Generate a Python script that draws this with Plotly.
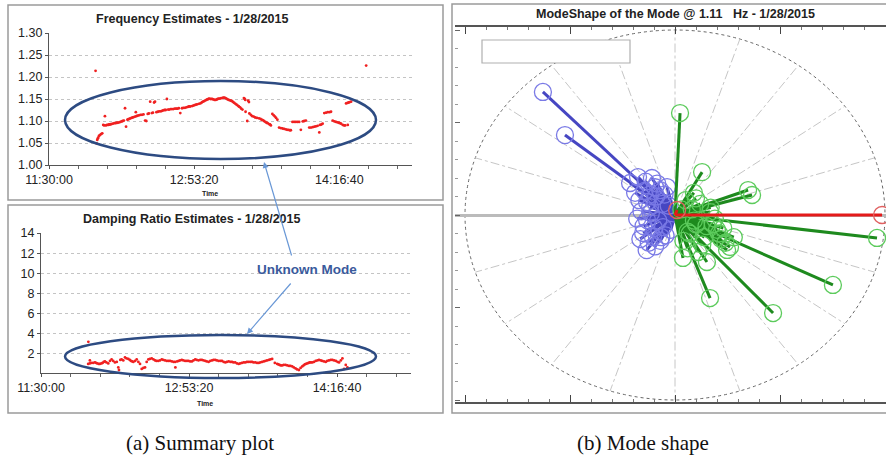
import numpy as np
import pandas as pd
import plotly.graph_objects as go

W, H = 886, 458
BASE = pd.Timestamp("2015-01-28 11:30:00")

# ---------------- data ----------------
# Frequency estimates: seconds after 11:30:00, frequency (Hz)
freq_sec = [1604, 1640, 1661, 1680, 1695, 1720, 1753, 1790, 1833, 1868, 1900, 1926, 1960, 2000, 2040,
            2070, 2100, 2130, 2157, 2200, 2250, 2290, 2330, 2370, 2420, 2460, 2503, 2540, 2580, 2618,
            2653, 2700, 2734, 2770, 2800, 2840, 2880, 2920, 2965, 2990, 3010, 3050, 3100, 3150, 3200,
            3253, 3310, 3350, 3400, 3440, 3484, 3542, 3580, 3620, 3650, 3700, 3750, 3800, 3850, 3888,
            3930, 3980, 4020, 4060, 4100, 4140, 4190, 4234, 4280, 4330, 4380, 4420, 4470, 4521, 4580,
            4630, 4680, 4730, 4780, 4820, 4860, 4926, 4970, 5010, 5060, 5100, 5160, 5213, 5260, 5300,
            5340, 5386, 5420, 5450, 5490, 5520, 5570, 5617, 5660, 5700, 5740, 5780, 5810, 5848, 5890,
            5930, 5970, 6000, 6040, 6076, 6110, 6150, 6190, 6230, 6270, 6307, 6340, 6380, 6420, 6460,
            6500, 6538, 6580, 6620, 6660, 6712, 6740, 6760, 6769, 6827, 6860, 6885, 6900, 6950, 7000,
            7050, 7100, 7160, 7230, 7280, 7320, 7360, 7403, 7450, 7490, 7530, 7576, 7610, 7640, 7692,
            7740, 7780, 7820, 7865, 7923, 7980, 8040, 8100, 8154, 8200, 8240, 8290, 8327, 8384, 8440,
            8500, 8560, 8615, 8673, 8740, 8790, 8846, 8961, 9020, 9080, 9140, 9192, 9250, 9308, 9330,
            9380, 9423, 9481, 9540, 9600, 9660, 9711, 9769, 9830, 9884, 9930, 9980, 10020, 10057, 10115,
            10160, 10200, 10288, 10230, 10280, 10320, 10360, 10403, 10922]
freq_hz = [1.214, 1.049, 1.057, 1.060, 1.062, 1.066, 1.068, 1.070, 1.072, 1.091, 1.090, 1.111, 1.090, 1.091, 1.091,
           1.092, 1.092, 1.093, 1.093, 1.094, 1.095, 1.095, 1.096, 1.096, 1.097, 1.098, 1.099, 1.100, 1.101, 1.129,
           1.087, 1.103, 1.104, 1.105, 1.106, 1.107, 1.108, 1.109, 1.110, 1.120, 1.111, 1.112, 1.113, 1.114, 1.114,
           1.115, 1.101, 1.100, 1.116, 1.117, 1.144, 1.118, 1.119, 1.142, 1.144, 1.120, 1.121, 1.122, 1.122, 1.123,
           1.124, 1.125, 1.125, 1.150, 1.126, 1.126, 1.127, 1.127, 1.127, 1.128, 1.128, 1.128, 1.129, 1.118, 1.129,
           1.130, 1.130, 1.131, 1.132, 1.133, 1.133, 1.134, 1.135, 1.136, 1.137, 1.138, 1.139, 1.140, 1.142, 1.144,
           1.145, 1.147, 1.148, 1.149, 1.150, 1.151, 1.150, 1.150, 1.149, 1.148, 1.148, 1.149, 1.150, 1.151, 1.151,
           1.152, 1.152, 1.153, 1.153, 1.152, 1.151, 1.149, 1.148, 1.147, 1.146, 1.145, 1.143, 1.141, 1.139, 1.137,
           1.135, 1.133, 1.131, 1.128, 1.126, 1.152, 1.150, 1.148, 1.121, 1.100, 1.146, 1.143, 1.117, 1.114, 1.111,
           1.110, 1.108, 1.107, 1.106, 1.105, 1.103, 1.102, 1.100, 1.098, 1.096, 1.095, 1.093, 1.092, 1.090, 1.116,
           1.113, 1.110, 1.107, 1.103, 1.085, 1.084, 1.083, 1.082, 1.081, 1.080, 1.080, 1.079, 1.079, 1.098, 1.098,
           1.098, 1.098, 1.098, 1.080, 1.099, 1.100, 1.101, 1.085, 1.085, 1.086, 1.087, 1.088, 1.089, 1.074, 1.091,
           1.092, 1.094, 1.118, 1.119, 1.120, 1.120, 1.121, 1.101, 1.099, 1.098, 1.097, 1.096, 1.095, 1.094, 1.091,
           1.090, 1.090, 1.091, 1.140, 1.141, 1.142, 1.143, 1.144, 1.226]

# Damping ratio estimates: seconds after 11:30:00, damping (%)
damp_sec = [1600, 1651, 1594, 1650, 1700, 1760, 1820, 1860, 1900, 1950, 1990, 2040, 2080, 2120, 2160,
            2210, 2272, 2330, 2385, 2440, 2498, 2560, 2611, 2634, 2680, 2724, 2780, 2837, 2890, 2950,
            3000, 3040, 3080, 3120, 3180, 3233, 3290, 3345, 3402, 3460, 3515, 3570, 3628, 3680, 3741,
            3800, 3854, 3900, 3960, 4020, 4080, 4130, 4190, 4250, 4306, 4360, 4420, 4480, 4532, 4540,
            4600, 4650, 4700, 4758, 4810, 4870, 4930, 4984, 5040, 5100, 5150, 5210, 5260, 5320, 5380,
            5436, 5490, 5550, 5600, 5662, 5720, 5780, 5830, 5888, 5940, 6000, 6060, 6114, 6170, 6227,
            6280, 6340, 6400, 6453, 6500, 6560, 6620, 6679, 6730, 6790, 6850, 6905, 6960, 7020, 7080,
            7131, 7180, 7240, 7300, 7357, 7410, 7470, 7530, 7583, 7640, 7700, 7750, 7809, 7900, 7979,
            8020, 8060, 8100, 8148, 8200, 8261, 8320, 8380, 8430, 8487, 8540, 8600, 8650, 8713, 8770,
            8826, 8870, 8910, 8950, 8996, 9040, 9080, 9120, 9166, 9220, 9280, 9340, 9392, 9450, 9500,
            9560, 9618, 9670, 9730, 9790, 9844, 9900, 9960, 10020, 10070, 10130, 10183, 10240, 10296, 10352]
damp_pct = [3.2, 1.35, 1.0, 1.05, 1.1, 1.1, 1.15, 1.1, 1.05, 1.0, 1.0, 1.05, 1.1, 1.2, 1.25,
            1.15, 1.05, 1.3, 1.45, 1.3, 1.15, 1.2, 0.65, 0.4, 1.4, 1.45, 1.35, 1.65, 1.55, 1.5,
            1.4, 1.3, 1.25, 1.2, 1.3, 1.45, 1.2, 1.0, 0.5, 0.6, 0.65, 1.2, 1.45, 1.5, 1.55,
            1.45, 1.35, 1.3, 1.3, 1.35, 1.45, 1.4, 1.35, 1.3, 1.3, 1.3, 1.25, 1.2, 1.2, 0.65,
            1.25, 1.3, 1.35, 1.4, 1.35, 1.3, 1.3, 1.3, 1.25, 1.25, 1.35, 1.45, 1.4, 1.35, 1.4,
            1.4, 1.35, 1.3, 1.25, 1.2, 1.3, 1.35, 1.4, 1.4, 1.35, 1.3, 1.3, 1.3, 1.2, 1.15,
            1.2, 1.25, 1.2, 1.2, 1.15, 1.15, 1.05, 1.0, 1.05, 1.1, 1.15, 1.15, 1.2, 1.2, 1.2,
            1.2, 1.15, 1.15, 1.1, 1.1, 1.15, 1.2, 1.25, 1.3, 1.35, 1.4, 1.45, 1.5, 1.1, 1.0,
            0.95, 0.9, 0.85, 0.85, 0.9, 0.9, 0.85, 0.8, 0.8, 0.75, 0.65, 0.55, 0.45, 0.4, 0.6,
            0.75, 0.85, 0.95, 1.0, 1.05, 1.1, 1.15, 1.15, 1.15, 1.2, 1.3, 1.35, 1.4, 1.35, 1.3,
            1.25, 1.2, 1.3, 1.35, 1.4, 1.4, 1.35, 1.3, 1.2, 1.15, 1.35, 1.55, 0.5, 0.9, 0.65]

# Mode shape vectors (end points, normalised units)
blue_x = [-0.629, -0.524, -0.214, -0.176, -0.133, -0.095, -0.071, -0.152, -0.105, -0.133, -0.119,
          -0.038, -0.057, -0.090, -0.080, -0.060, -0.100, -0.045, -0.120, -0.160, -0.070, -0.030,
          -0.190, -0.170, -0.140, -0.110, -0.085, -0.150, -0.125, -0.095, -0.065, -0.180, -0.145,
          -0.115, -0.050, -0.020, -0.165, -0.135]
blue_y = [0.665, 0.432, 0.173, 0.205, 0.070, 0.150, 0.135, -0.097, -0.119, -0.027, 0.043,
          0.151, -0.065, 0.100, -0.030, 0.060, -0.070, -0.110, 0.110, 0.020, -0.140, 0.050,
          0.120, 0.080, 0.180, 0.200, 0.170, -0.060, -0.150, -0.170, -0.120, -0.020, 0.130,
          0.010, 0.110, -0.080, -0.130, -0.190]
green_x = [0.024, 0.129, 0.348, 0.367, 0.962, 0.752, 0.467, 0.167, 0.152, 0.038, 0.262, 0.248,
           0.167, 0.120, 0.100, 0.070, 0.200, 0.140, 0.050, 0.090, 0.220, 0.180, 0.060, 0.110,
           0.030, 0.240, 0.080, 0.150, 0.190, 0.130, 0.060, 0.210, 0.100, 0.040, 0.170, 0.280,
           0.090, 0.230]
green_y = [0.551, 0.232, 0.135, 0.108, -0.124, -0.378, -0.530, -0.449, -0.254, -0.232, -0.173, -0.189,
           0.016, 0.060, -0.050, -0.100, -0.080, -0.120, 0.080, 0.120, -0.130, -0.050, -0.180, -0.200,
           0.030, -0.150, 0.030, -0.060, -0.020, -0.160, -0.090, -0.100, 0.090, -0.140, 0.040, -0.120,
           -0.030, -0.070]
red_x = [0.986, 0.010]
red_y = [0.0, 0.027]

# ---------------- helpers ----------------
def px(x):
    return x / W

def py(y):
    return 1 - y / H

def t(secs):
    return [BASE + pd.Timedelta(seconds=s) for s in secs]

def vec_xy(xs, ys):
    lx, ly = [], []
    for a, b in zip(xs, ys):
        lx += [0, a, None]
        ly += [0, b, None]
    return lx, ly

FONT = "Liberation Sans, Arial, sans-serif"
SERIF = "Liberation Serif, Times New Roman, serif"
fig = go.Figure()

# ---------------- left plots ----------------
fig.add_trace(go.Scatter(x=t(freq_sec), y=freq_hz, mode="markers", xaxis="x", yaxis="y",
                         marker=dict(color="#F02020", size=2.8), showlegend=False))
fig.add_trace(go.Scatter(x=t(damp_sec), y=damp_pct, mode="markers", xaxis="x2", yaxis="y2",
                         marker=dict(color="#F02020", size=2.8), showlegend=False))

# ---------------- mode shape ----------------
for xs, ys, lc, mc in [(blue_x, blue_y, "#4646C2", "#7A7AE6"),
                       (green_x, green_y, "#1E8A1E", "#5CCB5C"),
                       (red_x, red_y, "#E41A1A", "#E06060")]:
    lx, ly = vec_xy(xs, ys)
    fig.add_trace(go.Scatter(x=lx, y=ly, mode="lines", xaxis="x3", yaxis="y3",
                             line=dict(color=lc, width=3), showlegend=False))
    fig.add_trace(go.Scatter(x=xs, y=ys, mode="markers", xaxis="x3", yaxis="y3",
                             marker=dict(symbol="circle-open", size=17, color=mc,
                                         line=dict(width=1.3, color=mc)), showlegend=False))

date_range = [BASE, BASE + pd.Timedelta(seconds=12500)]
date_axis = dict(type="date", range=date_range, tick0=BASE, dtick=5000000, tickformat="%H:%M:%S",
                 showline=True, linecolor="#555", linewidth=1.2, ticks="outside", ticklen=3,
                 tickcolor="#555", showgrid=False, zeroline=False, automargin=False,
                 minor=dict(dtick=1000000, tick0=BASE, ticks="outside", ticklen=3, tickcolor="#666"),
                 tickfont=dict(family=FONT, size=12.5, color="#222"), fixedrange=True)

grid = dict(showgrid=True, gridcolor="#C4C4C4", griddash="dot", gridwidth=1, automargin=False,
            showline=True, linecolor="#555", linewidth=1.2, ticks="outside", ticklen=3,
            tickcolor="#555", zeroline=False, tickfont=dict(family=FONT, size=12.5, color="#222"))

polar_x = dict(domain=[px(455), 1], range=[(455 - 675) / 210, (886 - 675) / 210], automargin=False,
               showgrid=False, zeroline=False, showline=True, linecolor="#555", linewidth=1.5,
               mirror="ticks", ticks="inside", ticklen=7, tickcolor="#444", dtick=0.5, tick0=0,
               showticklabels=False,
               minor=dict(dtick=0.1, ticks="inside", ticklen=3, tickcolor="#777"))
polar_y = dict(domain=[py(402), py(27)], range=[-(402 - 215) / 185, (215 - 27) / 185], automargin=False,
               showgrid=False, zeroline=True, zerolinecolor="#BBBBBB", zerolinewidth=2.5,
               showline=False, ticks="inside", ticklen=5, tickcolor="#666", dtick=0.5, tick0=0,
               showticklabels=False,
               minor=dict(dtick=0.1, ticks="inside", ticklen=3, tickcolor="#999"))

fig.update_layout(
    width=W, height=H, margin=dict(l=0, r=0, t=0, b=0, autoexpand=False),
    paper_bgcolor="white", plot_bgcolor="white",
    xaxis=dict(domain=[px(49), px(412)], anchor="y", **date_axis),
    yaxis=dict(domain=[py(165), py(33)], anchor="x", range=[1.0, 1.3], dtick=0.05,
               tickformat=".2f", **grid),
    xaxis2=dict(domain=[px(41), px(411)], anchor="y2", **date_axis),
    yaxis2=dict(domain=[py(373), py(233)], anchor="x2", range=[0.1, 14], dtick=2, **grid),
    xaxis3=dict(anchor="y3", **polar_x),
    yaxis3=dict(anchor="x3", **polar_y),
)

shapes = []
# panel frames
for x0, y0, x1, y1 in [(8, 5, 443, 200), (8, 205, 443, 413), (452, 4, 890, 413)]:
    shapes.append(dict(type="rect", xref="paper", yref="paper", x0=px(x0), x1=px(x1),
                       y0=py(y1), y1=py(y0), line=dict(color="#9A9A9A", width=1.5), layer="below"))
# polar grid: unit circle and spokes every 18 degrees
shapes.append(dict(type="circle", xref="x3", yref="y3", x0=-1, x1=1, y0=-1, y1=1,
                   line=dict(color="#666", width=1, dash="dot"), layer="below"))
for ang in np.arange(0, 360, 18):
    a = np.deg2rad(ang)
    shapes.append(dict(type="line", xref="x3", yref="y3", x0=0.1 * np.cos(a), y0=0.1 * np.sin(a),
                       x1=np.cos(a), y1=np.sin(a),
                       line=dict(color="#C6C6C6", width=1, dash="dashdot"), layer="below"))
# legend box
shapes.append(dict(type="rect", xref="paper", yref="paper", x0=px(482), x1=px(630),
                   y0=py(63), y1=py(40), line=dict(color="#B0B0B0", width=1.2),
                   fillcolor="white"))
# ellipses
for x0, y0, x1, y1 in [(65, 81, 376, 159), (65, 335, 376, 378)]:
    shapes.append(dict(type="circle", xref="paper", yref="paper", x0=px(x0), x1=px(x1),
                       y0=py(y1), y1=py(y0), line=dict(color="#2D4B82", width=2.5)))
fig.update_layout(shapes=shapes)

ann = []
def text(x, y, s, size=12, bold=True, color="#222", family=FONT):
    ann.append(dict(xref="paper", yref="paper", x=px(x), y=py(y), text=f"<b>{s}</b>" if bold else s,
                    showarrow=False, xanchor="center", yanchor="middle",
                    font=dict(family=family, size=size, color=color)))

text(192, 19, "Frequency Estimates - 1/28/2015", 12.5)
text(191, 219, "Damping Ratio Estimates - 1/28/2015", 12.5)
text(210, 193, "Time", 7)
text(205, 403, "Time", 7)
text(675, 14, "ModeShape of the Mode @ 1.11&nbsp;&nbsp;&nbsp;Hz - 1/28/2015", 12.5)
text(307, 269, "Unknown Mode", 13.5, color="#3A5A9C")
text(200, 443, "(a) Summary plot", 21, bold=False, color="#111", family=SERIF)
text(643, 443, "(b) Mode shape", 21, bold=False, color="#111", family=SERIF)

for hx, hy, tx, ty in [(264, 162, 292, 257), (247, 334, 292, 282)]:
    ann.append(dict(xref="paper", yref="paper", x=px(hx), y=py(hy), ax=tx - hx, ay=ty - hy,
                    axref="pixel", ayref="pixel", text="", showarrow=True, arrowhead=2,
                    arrowsize=1, arrowwidth=1.2, arrowcolor="#6A98D6"))
fig.update_layout(annotations=ann)

fig.write_html("out.html")
